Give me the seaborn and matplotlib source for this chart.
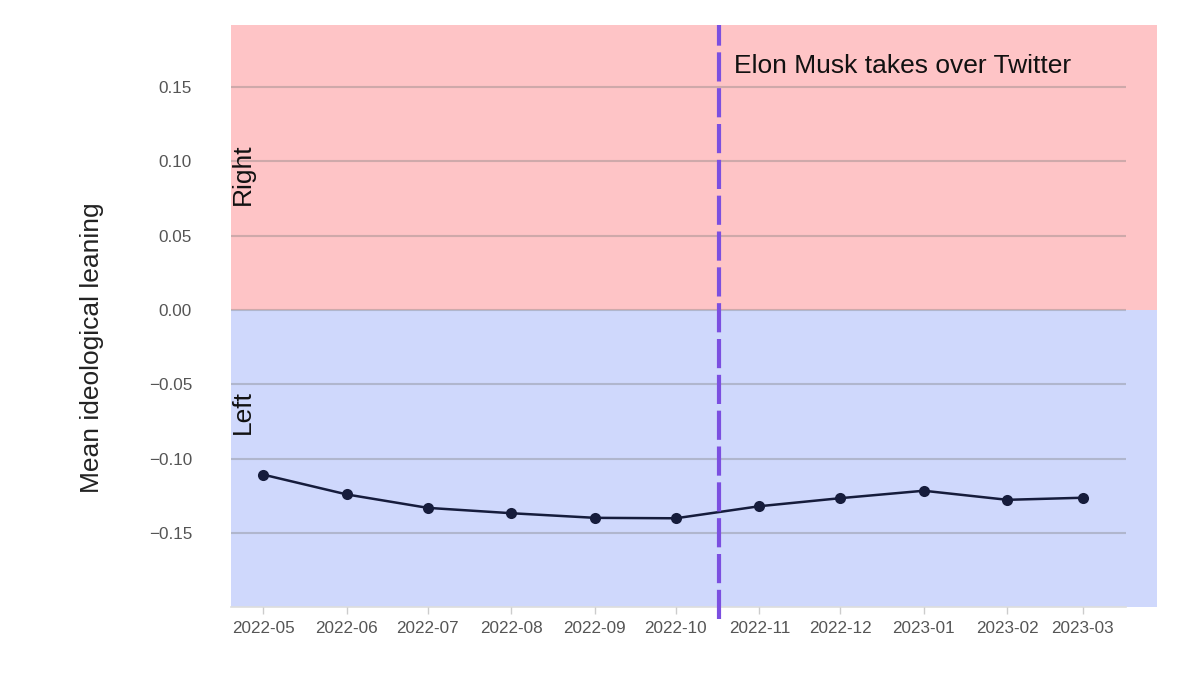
import pandas as pd
import numpy as np
import seaborn as sns
import matplotlib.pyplot as plt
import matplotlib.dates as mdates

months = ["2022-05", "2022-06", "2022-07", "2022-08", "2022-09", "2022-10",
          "2022-11", "2022-12", "2023-01", "2023-02", "2023-03"]
leaning = [-0.1106, -0.1239, -0.1329, -0.1365, -0.1396, -0.1399,
           -0.1318, -0.1264, -0.1214, -0.1275, -0.1261]
event_date = "2022-10-17"
event_label = "Elon Musk takes over Twitter"

df = pd.DataFrame({"month": pd.to_datetime(months), "leaning": leaning})

sns.set_style("white")
plt.rcParams["font.family"] = ["Liberation Sans", "DejaVu Sans"]

y_lo, y_hi = -0.1995, 0.1914

fig = plt.figure(figsize=(12, 6.75), dpi=100)
ax = fig.add_axes([0.1925, 0.1007, 0.7458, 0.8623])

# shaded halves, running a bit past the right edge of the axes
trans = ax.get_yaxis_transform()
ax.add_patch(plt.Rectangle((0, 0), 1.035, y_hi, transform=trans,
                           color="#fec4c6", zorder=0, clip_on=False, lw=0))
ax.add_patch(plt.Rectangle((0, y_lo), 1.035, -y_lo, transform=trans,
                           color="#cfd8fc", zorder=0, clip_on=False, lw=0))

sns.lineplot(data=df, x="month", y="leaning", ax=ax, color="#161c3c",
             marker="o", markersize=8, markeredgewidth=0, linewidth=1.8, zorder=3)

ax.set_ylim(y_lo, y_hi)
ax.set_xlim(pd.Timestamp("2022-04-19"), pd.Timestamp("2023-03-17"))
ax.set_yticks([0.15, 0.10, 0.05, 0.00, -0.05, -0.10, -0.15])
ax.yaxis.set_major_formatter(plt.FuncFormatter(
    lambda v, p: f"{v:.2f}".replace("-", "\u2212") if abs(v) > 1e-9 else "0.00"))
ax.xaxis.set_major_locator(mdates.MonthLocator())
ax.xaxis.set_major_formatter(mdates.DateFormatter("%Y-%m"))

ax.grid(axis="y", color="#777777", alpha=0.35, linewidth=1.5, zorder=1)
ax.set_axisbelow(False)
for s in ["top", "right", "left"]:
    ax.spines[s].set_visible(False)
ax.spines["bottom"].set_color("#dddddd")
ax.spines["bottom"].set_linewidth(1.2)

ax.tick_params(axis="y", length=0, pad=28, labelsize=12.3, labelcolor="#555555")
ax.tick_params(axis="x", length=5, width=1, color="#cccccc", pad=5,
               labelsize=12.3, labelcolor="#555555", bottom=True)

ax.set_xlabel("")
ax.set_ylabel("Mean ideological leaning", fontsize=19, color="#222222")
ax.yaxis.set_label_coords(-0.142, 0.445)

ax.axvline(pd.Timestamp(event_date), color="#7b4fe0", linewidth=3,
           dashes=(7, 1.6), zorder=4, ymin=-0.02, clip_on=False)
ax.text(pd.Timestamp(event_date) + pd.Timedelta(days=5.5), 0.1641, event_label,
        fontsize=19, color="#111111", va="center", ha="left", zorder=5)

ax.text(0.013, 0.0913, "Right", transform=trans, rotation=90, fontsize=19,
        color="#111111", ha="center", va="center", zorder=5)
ax.text(0.013, -0.0688, "Left", transform=trans, rotation=90, fontsize=19,
        color="#111111", ha="center", va="center", zorder=5)

fig.savefig("out.png", dpi=100)
